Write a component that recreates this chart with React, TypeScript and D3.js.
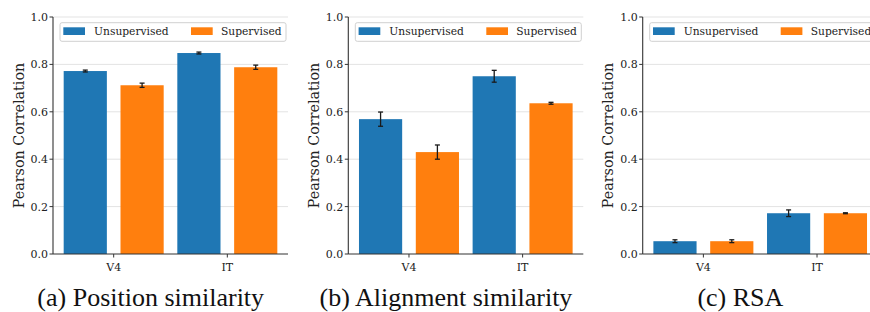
import React from 'react';
import { scaleLinear } from 'd3';

const categories = ['V4', 'IT'];
const seriesNames = ['Unsupervised', 'Supervised'];
const seriesColors = ['#1f77b4', '#ff7f0e'];
const yTicks = [0, 0.2, 0.4, 0.6, 0.8, 1.0];
const panelTitles = ['(a) Position similarity', '(b) Alignment similarity', '(c) RSA'];

const positionUnsup = [0.772, 0.848];
const positionUnsupErr = [0.004, 0.004];
const positionSup = [0.712, 0.788];
const positionSupErr = [0.009, 0.009];

const alignUnsup = [0.569, 0.75];
const alignUnsupErr = [0.03, 0.025];
const alignSup = [0.43, 0.636];
const alignSupErr = [0.03, 0.004];

const rsaUnsup = [0.054, 0.172];
const rsaUnsupErr = [0.006, 0.014];
const rsaSup = [0.054, 0.172];
const rsaSupErr = [0.006, 0.002];

const panels = [
	{ title: panelTitles[0], values: [positionUnsup, positionSup], errs: [positionUnsupErr, positionSupErr] },
	{ title: panelTitles[1], values: [alignUnsup, alignSup], errs: [alignUnsupErr, alignSupErr] },
	{ title: panelTitles[2], values: [rsaUnsup, rsaSup], errs: [rsaUnsupErr, rsaSupErr] },
];

const panelLeft = [53, 348.3, 642.7];
const plotW = 235;
const barWidth = 0.38;
const offsets = [-0.25, 0.25];

export default function App() {
	const y = scaleLinear().domain([0, 1]).range([254, 17]);

	return (
		<div style={{ position: 'absolute', left: 0, top: 0 }}>
			<svg width={870} height={312} style={{ display: 'block', background: '#fff', fontFamily: '"DejaVu Serif"' }}>
				{panels.map((panel, p) => {
					const left = panelLeft[p];
					const x = scaleLinear().domain([-0.534, 1.534]).range([left, left + plotW]);
					const bw = x(barWidth) - x(0);
					return (
						<g key={'p' + p}>
							{yTicks.slice(1).map((t) => (
								<line key={'g' + t} x1={left} x2={left + plotW} y1={y(t)} y2={y(t)} stroke="#e3e3e3" strokeWidth={1} />
							))}

							{panel.values.map((vals, s) =>
								vals.map((v, i) => (
									<rect key={'b' + s + i} x={x(i + offsets[s]) - bw / 2} y={y(v)} width={bw} height={y(0) - y(v)} fill={seriesColors[s]} />
								))
							)}

							{panel.values.map((vals, s) =>
								vals.map((v, i) => {
									const cx = x(i + offsets[s]);
									const e = panel.errs[s][i];
									return (
										<g key={'e' + s + i} stroke="#1a1a1a" strokeWidth={1.3}>
											<line x1={cx} x2={cx} y1={y(v - e)} y2={y(v + e)} />
											<line x1={cx - 2.5} x2={cx + 2.5} y1={y(v - e)} y2={y(v - e)} />
											<line x1={cx - 2.5} x2={cx + 2.5} y1={y(v + e)} y2={y(v + e)} />
										</g>
									);
								})
							)}

							<line x1={left} x2={left} y1={y(0)} y2={y(1)} stroke="#333" strokeWidth={1.1} />
							<line x1={left} x2={left + plotW} y1={y(0)} y2={y(0)} stroke="#333" strokeWidth={1.1} />

							{yTicks.map((t) => (
								<g key={'t' + t}>
									<line x1={left - 3.5} x2={left} y1={y(t)} y2={y(t)} stroke="#333" strokeWidth={1} />
									<text x={left - 5} y={y(t) + 4} textAnchor="end" fontSize={11} fill="#222">{t.toFixed(1)}</text>
								</g>
							))}

							{categories.map((c, i) => (
								<g key={'x' + c}>
									<line x1={x(i)} x2={x(i)} y1={y(0)} y2={y(0) + 3.5} stroke="#333" strokeWidth={1} />
									<text x={x(i)} y={271} textAnchor="middle" fontSize={11} fill="#222">{c}</text>
								</g>
							))}

							<text transform={'translate(' + (left - 29.5) + ',' + y(0.5) + ') rotate(-90)'} textAnchor="middle" fontSize={14.3} fill="#222">
								Pearson Correlation
							</text>

							<rect x={left + 7} y={22.7} width={226} height={18.6} rx={2} fill="#fff" fillOpacity={0.85} stroke="#d0d0d0" strokeWidth={1} />
							{seriesNames.map((n, s) => (
								<g key={'l' + n}>
									<rect x={left + 10.3 + s * 127.7} y={27.3} width={21.7} height={7.7} fill={seriesColors[s]} />
									<text x={left + 41 + s * 127} y={35} fontSize={10.7} fill="#222">{n}</text>
								</g>
							))}

							<text x={left + 97.7} y={306} textAnchor="middle" style={{ fontFamily: '"Liberation Serif"' }} fontSize={26} fill="#111">
								{panel.title}
							</text>
						</g>
					);
				})}
			</svg>
		</div>
	);
}
